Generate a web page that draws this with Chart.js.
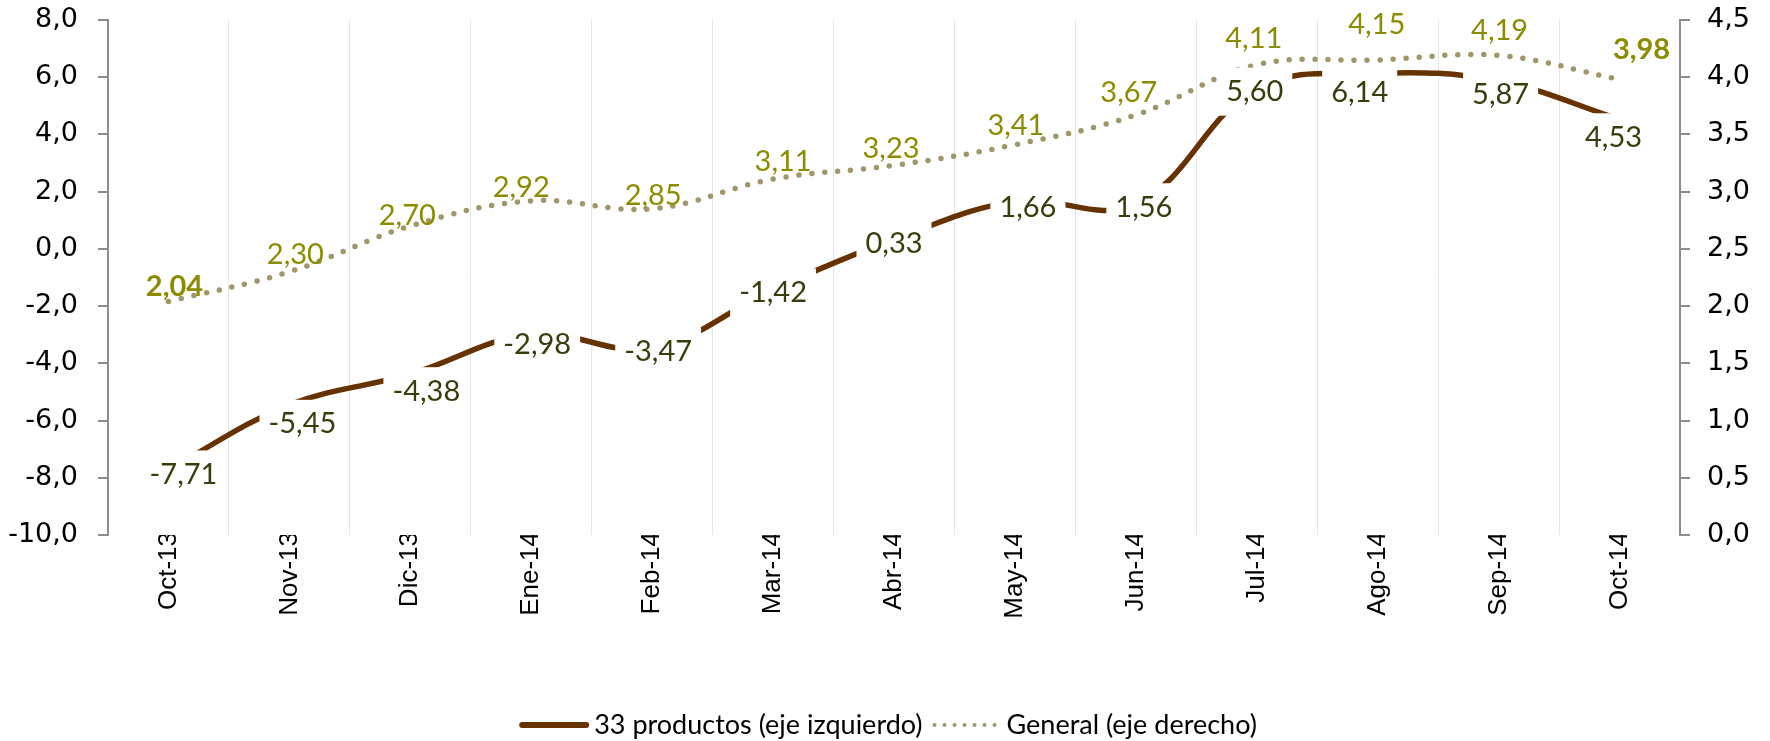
<!DOCTYPE html>
<html>
<head>
<meta charset="utf-8">
<script src="https://cdn.jsdelivr.net/npm/chart.js@4.4.1/dist/chart.umd.min.js"></script>
<style>
html,body{margin:0;padding:0;background:#fff;overflow:hidden;}
#wrap{width:1770px;height:741px;}
canvas{display:block;}
</style>
</head>
<body>
<div id="wrap"><canvas id="c" width="1770" height="741"></canvas></div>
<script>
// ---- data ----
const categories = ['Oct-13','Nov-13','Dic-13','Ene-14','Feb-14','Mar-14','Abr-14','May-14','Jun-14','Jul-14','Ago-14','Sep-14','Oct-14'];
const productos33 = [-7.71,-5.45,-4.38,-2.98,-3.47,-1.42,0.33,1.66,1.56,5.60,6.14,5.87,4.53];
const general = [2.04,2.30,2.70,2.92,2.85,3.11,3.23,3.41,3.67,4.11,4.15,4.19,3.98];
const leftAxis = {min:-10, max:8, step:2};
const rightAxis = {min:0, max:4.5, step:0.5};
const seriesNames = ['33 productos (eje izquierdo)','General (eje derecho)'];

// label placement tweaks (pixels relative to each point)
const productosLabelShift = [[15,5],[13,19],[16,17],[6,10],[6,3],[0,3],[0,4],[13,6],[8,3],[-2,3],[-18,19],[2,14],[-6,18]];
const generalLabelShift = [[6,-15],[6,-17],[-3,-10],[-10,-13],[1,-13],[10,-17],[-3,-17],[1,-19],[-7,-22],[-3,-26],[-1,-35],[1,-25],[22,-30]];

const BROWN = '#663300';
const KHAKI = '#a0966a';
const OLIVE_TXT = '#8c8c00';
const DARK_TXT = '#3b3b0c';
const AXIS = '#8c8c8c';

const fmt1 = v => Number(v).toFixed(1).replace('.', ',');
const fmt2 = v => Number(v).toFixed(2).replace('.', ',');

const labelPlugin = {
  id: 'valueLabels',
  afterDatasetsDraw(chart) {
    const ctx = chart.ctx;
    ctx.save();
    ctx.textAlign = 'center';
    ctx.textBaseline = 'middle';
    const m1 = chart.getDatasetMeta(1);
    m1.data.forEach((pt, i) => {
      const bold = (i === 0 || i === general.length - 1);
      ctx.font = (bold ? 'bold ' : '') + '29px Lato';
      ctx.fillStyle = OLIVE_TXT;
      ctx.fillText(fmt2(general[i]), pt.x + generalLabelShift[i][0], pt.y + generalLabelShift[i][1]);
    });
    const m0 = chart.getDatasetMeta(0);
    ctx.font = '29px Lato';
    m0.data.forEach((pt, i) => {
      const t = fmt2(productos33[i]);
      const w = ctx.measureText(t).width;
      const cx = pt.x + productosLabelShift[i][0];
      const cy = pt.y + productosLabelShift[i][1];
      ctx.fillStyle = '#ffffff';
      ctx.fillRect(cx - w / 2 - 9, cy - 24, w + 18, 48);
      ctx.fillStyle = DARK_TXT;
      ctx.fillText(t, cx, cy);
    });
    ctx.restore();
  },
  afterDraw(chart) {
    const ctx = chart.ctx;
    ctx.save();
    ctx.font = '27px Lato';
    ctx.textBaseline = 'middle';
    ctx.textAlign = 'left';
    const sample = 70, gapTxt = 5, gapItem = 9;
    const w0 = ctx.measureText(seriesNames[0]).width;
    const w1 = ctx.measureText(seriesNames[1]).width;
    const total = sample + gapTxt + w0 + gapItem + sample + gapTxt + w1;
    let x = chart.width / 2 - total / 2 + 3;
    const y = 725;
    ctx.strokeStyle = BROWN; ctx.lineWidth = 6; ctx.lineCap = 'round'; ctx.setLineDash([]);
    ctx.beginPath(); ctx.moveTo(x + 3, y); ctx.lineTo(x + sample - 3, y); ctx.stroke();
    x += sample + gapTxt;
    ctx.fillStyle = '#000';
    ctx.fillText(seriesNames[0], x, y);
    x += w0 + gapItem;
    ctx.strokeStyle = KHAKI; ctx.lineWidth = 4; ctx.lineCap = 'round'; ctx.setLineDash([0, 10]);
    ctx.beginPath(); ctx.moveTo(x + 3, y); ctx.lineTo(x + sample - 3, y); ctx.stroke();
    ctx.setLineDash([]);
    x += sample + gapTxt;
    ctx.fillText(seriesNames[1], x, y);
    ctx.restore();
  }
};

const tickFontY = { family: "'DejaVu Sans', sans-serif", size: 27 };
const tickFontX = { family: "'Liberation Sans', Arial, sans-serif", size: 26 };

function noPad(s) { s.paddingTop = 0; s.paddingBottom = 0; }

function build() {
  new Chart(document.getElementById('c'), {
    type: 'line',
    data: {
      labels: categories,
      datasets: [
        {
          label: seriesNames[0],
          data: productos33,
          yAxisID: 'yL',
          borderColor: BROWN,
          borderWidth: 5.5,
          pointRadius: 0,
          tension: 0.38,
          fill: false
        },
        {
          label: seriesNames[1],
          data: general,
          yAxisID: 'yR',
          borderColor: KHAKI,
          borderWidth: 5.5,
          borderDash: [0, 13],
          borderCapStyle: 'round',
          pointRadius: 0,
          tension: 0.38,
          fill: false
        }
      ]
    },
    options: {
      responsive: false,
      animation: false,
      layout: { padding: { top: 20, left: 0, right: 0, bottom: 0 } },
      plugins: { legend: { display: false }, tooltip: { enabled: false } },
      scales: {
        x: {
          offset: true,
          grid: { display: true, drawOnChartArea: true, drawTicks: false, color: '#e6e6e6', lineWidth: 1, offset: true },
          border: { display: false },
          ticks: { minRotation: 90, maxRotation: 90, padding: -3, color: '#000', font: tickFontX },
          afterFit(s) { s.height = 206; s.paddingLeft = 0; s.paddingRight = 0; }
        },
        yL: {
          position: 'left',
          min: leftAxis.min, max: leftAxis.max,
          ticks: { stepSize: leftAxis.step, callback: v => fmt1(v), color: '#000', padding: 20, font: tickFontY },
          grid: { drawOnChartArea: false, drawTicks: true, tickLength: 10, color: AXIS, lineWidth: 2 },
          border: { display: true, color: AXIS, width: 2 },
          afterFit(s) { s.width = 108; noPad(s); }
        },
        yR: {
          position: 'right',
          min: rightAxis.min, max: rightAxis.max,
          ticks: { stepSize: rightAxis.step, callback: v => fmt1(v), color: '#000', padding: 17, font: tickFontY },
          grid: { drawOnChartArea: false, drawTicks: true, tickLength: 10, color: AXIS, lineWidth: 2 },
          border: { display: true, color: AXIS, width: 2 },
          afterFit(s) { s.width = 90; noPad(s); }
        }
      }
    },
    plugins: [labelPlugin]
  });
}

build();
</script>
</body>
</html>
